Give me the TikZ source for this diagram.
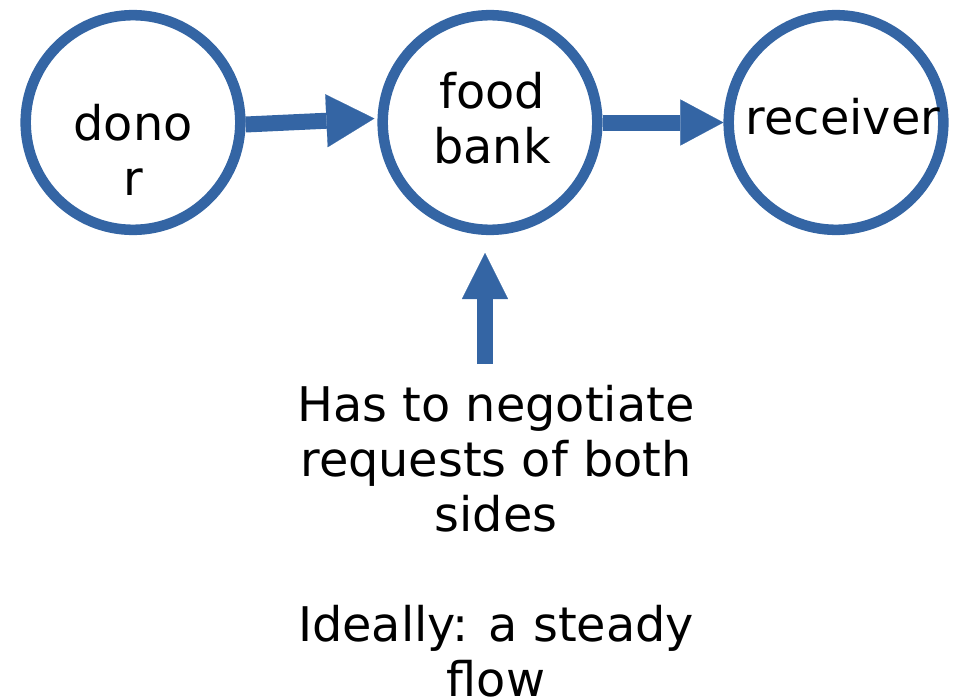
\documentclass[tikz,border=0pt]{standalone}
\usepackage{fontspec}
\setmainfont{DejaVu Sans}
\usetikzlibrary{arrows.meta,calc}
\definecolor{flowblue}{RGB}{52,101,164}
\begin{document}
\begin{tikzpicture}[x=0.75pt,y=-0.75pt,
  ring/.style={circle, draw=flowblue, line width=7.9pt, minimum size=161pt, inner sep=0pt},
  lbl/.style={font=\fontsize{35.8}{41.25}\selectfont, align=center, inner sep=0pt},
  flowarrow/.style={draw=flowblue, fill=flowblue, line width=12pt},
]
\useasboundingbox (0,0) rectangle (956,699);

% the three stations
\node[ring] (donor) at (133,122.5) {};
\node[ring] (bank) at (490,122.5) {};
\node[ring] (receiver) at (836,122.5) {};

\node[lbl] (donortext) at (133,150) {dono\\r};
\node[lbl] (banktext) at (492,118) {food\\bank};
\node[lbl] (receivertext) at (843,117) {receiver};

% flow between the stations
\draw[flowarrow, -{Triangle[length=36pt,width=39.75pt,line width=0.1pt]}]
  ($(donor.east)+(0,2)$) -- ($(bank.west)+(-3,-4)$);
\draw[flowarrow, -{Triangle[length=32.25pt,width=34.5pt,line width=0.1pt]}]
  (bank.east) -- (receiver.west);

% note below the food bank
\node[lbl, anchor=north] (note) at (496,385)
  {Has to negotiate\\requests of both\\sides\\[41.25pt]Ideally: a steady\\flow};
\coordinate (uptail) at (485,364);
\coordinate (uptip) at (485,253);
\draw[flowarrow, -{Triangle[length=34.5pt,width=34.5pt,line width=0.1pt]}]
  (uptail) -- (uptip);
\end{tikzpicture}
\end{document}
